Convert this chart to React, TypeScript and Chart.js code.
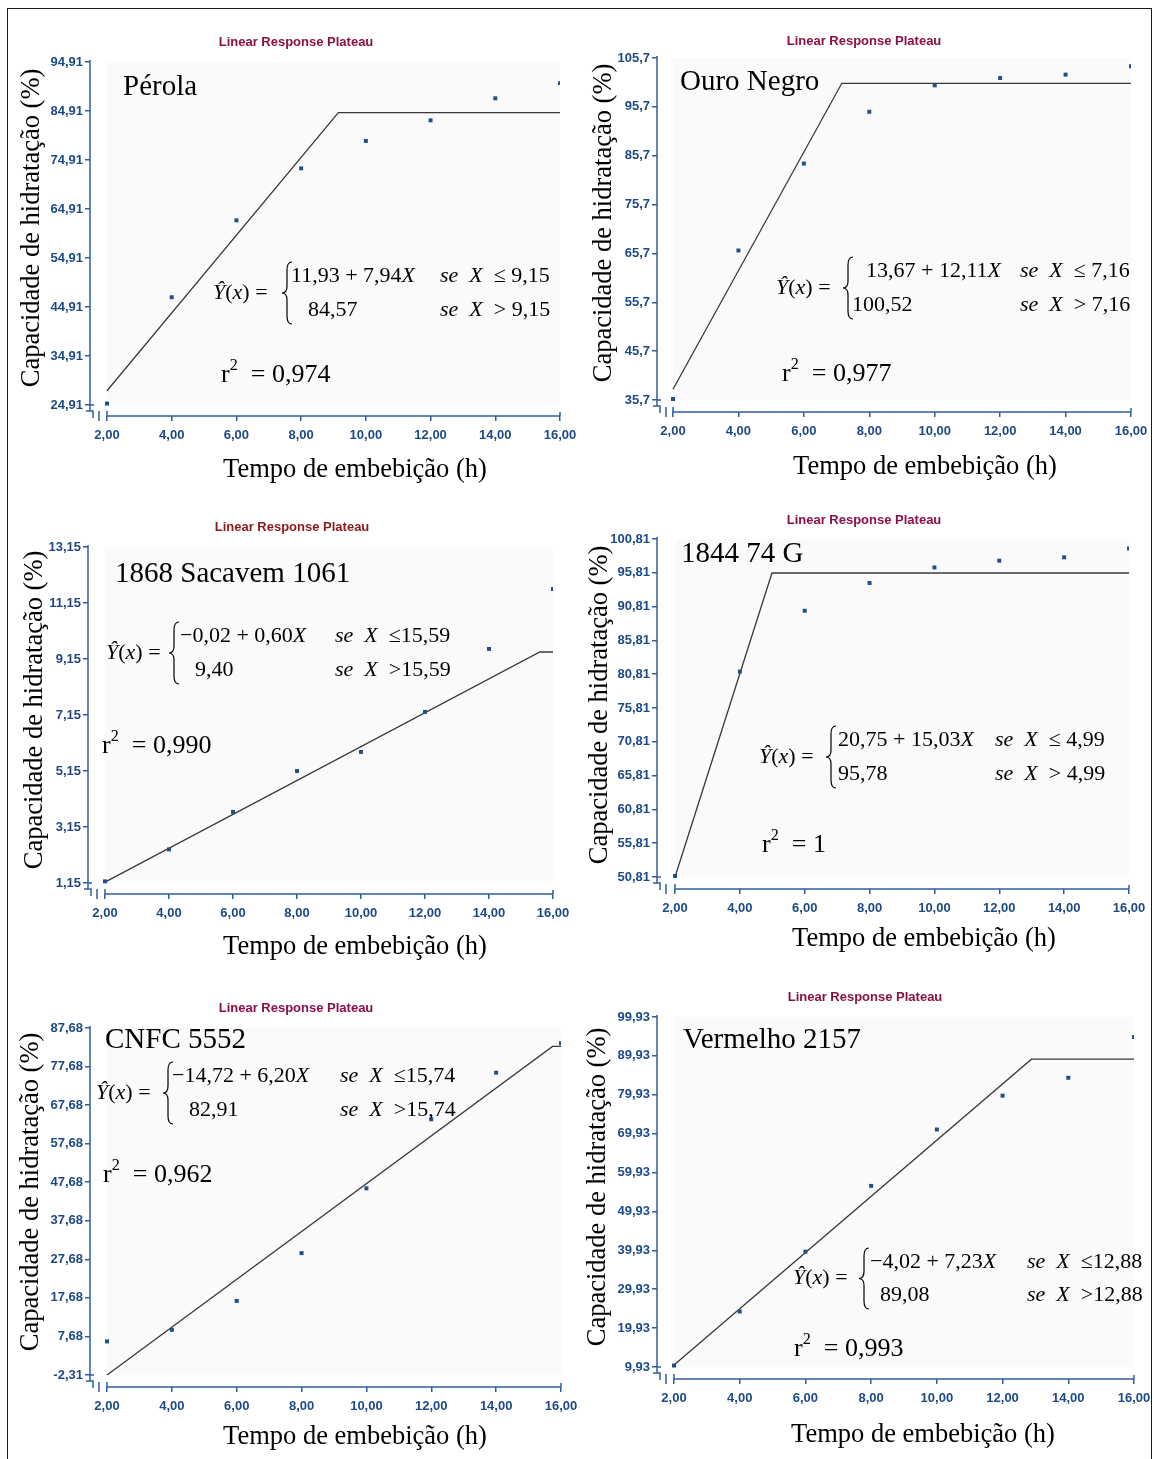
import React, { useEffect, useRef } from "react";
import { Chart, registerables } from "chart.js";

Chart.register(...registerables);

// ---------------- data ----------------
const timeH = [2, 4, 6, 8, 10, 12, 14, 16];
const xTickValues = [2, 4, 6, 8, 10, 12, 14, 16];

const perolaObs = [25.2, 46.9, 62.6, 73.2, 78.8, 83.0, 87.5, 90.6];
const perolaFitX = [2, 9.15, 16];
const perolaFitY = [27.81, 84.57, 84.57];
const perolaYTicks = [24.91, 34.91, 44.91, 54.91, 64.91, 74.91, 84.91, 94.91];

const ouroObs = [35.9, 66.3, 84.1, 94.7, 100.1, 101.6, 102.3, 104.0];
const ouroFitX = [2, 7.16, 16];
const ouroFitY = [37.89, 100.52, 100.52];
const ouroYTicks = [35.7, 45.7, 55.7, 65.7, 75.7, 85.7, 95.7, 105.7];

const sacavemObs = [1.21, 2.35, 3.69, 5.15, 5.83, 7.26, 9.51, 11.65];
const sacavemFitX = [2, 15.59, 16];
const sacavemFitY = [1.18, 9.4, 9.4];
const sacavemYTicks = [1.15, 3.15, 5.15, 7.15, 9.15, 11.15, 13.15];

const g74Obs = [50.96, 81.2, 90.2, 94.3, 96.6, 97.6, 98.1, 99.4];
const g74FitX = [2, 4.99, 16];
const g74FitY = [50.81, 95.78, 95.78];
const g74YTicks = [50.81, 55.81, 60.81, 65.81, 70.81, 75.81, 80.81, 85.81, 90.81, 95.81, 100.81];

const cnfcObs = [6.4, 9.4, 16.9, 29.3, 46.1, 64.0, 76.1, 83.7];
const cnfcFitX = [2, 15.74, 16];
const cnfcFitY = [-2.32, 82.91, 82.91];
const cnfcYTicks = [-2.31, 7.68, 17.68, 27.68, 37.68, 47.68, 57.68, 67.68, 77.68, 87.68];

const vermObs = [10.3, 24.2, 39.6, 56.5, 71.0, 79.7, 84.3, 94.8];
const vermFitX = [2, 12.88, 16];
const vermFitY = [10.44, 89.08, 89.08];
const vermYTicks = [9.93, 19.93, 29.93, 39.93, 49.93, 59.93, 69.93, 79.93, 89.93, 99.93];

const chartTitle = "Linear Response Plateau";
const yAxisTitle = "Capacidade de hidratação (%)";
const xAxisTitle = "Tempo de embebição (h)";

// ---------------- styles ----------------
const AXIS = "#2f5f9e";
const TICKTXT = "#1d4a86";
const POINT = "#1f4e8c";
const LINE = "#3a3a3a";
const SERIF = '"Liberation Serif", "Times New Roman", serif';
const NARROW = '"Liberation Sans Narrow", "Arial Narrow", "Liberation Sans", Arial, sans-serif';

const panels = [
  {
    key: "p1", name: "Pérola", obs: perolaObs, fitX: perolaFitX, fitY: perolaFitY, yTicks: perolaYTicks, yDec: 2,
    expr: "11,93 + 7,94", plateau: "84,57", le: "≤ 9,15", gt: "> 9,15", r2: "0,974", titleColor: "#8b1046",
    geo: { cx: 9, cy: 9, w: 590, h: 478, x0: 90, x2: 107, x16: 560, yTop: 62, yMin: 405, axisY: 416 },
    txt: { title: [296, 42], yT: [32, 228], xT: [355, 470], name: [123, 87], lhs: [213, 293], brace: 287,
      row1: 276, row2: 310, e1: 291, e2: 308, cond: 440, r2: [221, 375] },
  },
  {
    key: "p2", name: "Ouro Negro", obs: ouroObs, fitX: ouroFitX, fitY: ouroFitY, yTicks: ouroYTicks, yDec: 1,
    expr: "13,67 + 12,11", plateau: "100,52", le: "≤ 7,16", gt: "> 7,16", r2: "0,977", titleColor: "#8b1046",
    geo: { cx: 577, cy: 9, w: 610, h: 478, x0: 657, x2: 673, x16: 1131, yTop: 58, yMin: 400, axisY: 412 },
    txt: { title: [864, 41], yT: [604, 223], xT: [925, 467], name: [680, 82], lhs: [776, 288], brace: 848,
      row1: 271, row2: 305, e1: 866, e2: 852, cond: 1020, r2: [782, 374] },
  },
  {
    key: "p3", name: "1868 Sacavem 1061", obs: sacavemObs, fitX: sacavemFitX, fitY: sacavemFitY, yTicks: sacavemYTicks, yDec: 2,
    expr: "−0,02 + 0,60", plateau: "9,40", le: "≤15,59", gt: ">15,59", r2: "0,990", titleColor: "#8b1a1a",
    geo: { cx: 9, cy: 487, w: 590, h: 488, x0: 88, x2: 105, x16: 553, yTop: 547, yMin: 883, axisY: 894 },
    txt: { title: [292, 527], yT: [35, 710], xT: [355, 947], name: [115, 574], lhs: [106, 653], brace: 174,
      row1: 636, row2: 670, e1: 180, e2: 195, cond: 335, r2: [102, 746] },
  },
  {
    key: "p4", name: "1844 74 G", obs: g74Obs, fitX: g74FitX, fitY: g74FitY, yTicks: g74YTicks, yDec: 2,
    expr: "20,75 + 15,03", plateau: "95,78", le: "≤ 4,99", gt: "> 4,99", r2: "1", titleColor: "#8b1046",
    geo: { cx: 577, cy: 487, w: 610, h: 488, x0: 657, x2: 675, x16: 1129, yTop: 539, yMin: 877, axisY: 889 },
    txt: { title: [864, 520], yT: [600, 705], xT: [924, 939], name: [681, 554], lhs: [759, 757], brace: 831,
      row1: 740, row2: 774, e1: 838, e2: 838, cond: 995, r2: [762, 845] },
  },
  {
    key: "p5", name: "CNFC 5552", obs: cnfcObs, fitX: cnfcFitX, fitY: cnfcFitY, yTicks: cnfcYTicks, yDec: 2,
    expr: "−14,72 + 6,20", plateau: "82,91", le: "≤15,74", gt: ">15,74", r2: "0,962", titleColor: "#8b1046",
    geo: { cx: 9, cy: 975, w: 590, h: 484, x0: 90, x2: 107, x16: 561, yTop: 1028, yMin: 1375, axisY: 1387 },
    txt: { title: [296, 1008], yT: [31, 1192], xT: [355, 1437], name: [105, 1040], lhs: [96, 1093], brace: 168,
      row1: 1076, row2: 1110, e1: 172, e2: 189, cond: 340, r2: [103, 1175] },
  },
  {
    key: "p6", name: "Vermelho 2157", obs: vermObs, fitX: vermFitX, fitY: vermFitY, yTicks: vermYTicks, yDec: 2,
    expr: "−4,02 + 7,23", plateau: "89,08", le: "≤12,88", gt: ">12,88", r2: "0,993", titleColor: "#8b1046",
    geo: { cx: 577, cy: 975, w: 610, h: 484, x0: 657, x2: 674, x16: 1134, yTop: 1017, yMin: 1367, axisY: 1379 },
    txt: { title: [865, 997], yT: [598, 1187], xT: [923, 1435], name: [683, 1040], lhs: [793, 1278], brace: 864,
      row1: 1262, row2: 1295, e1: 870, e2: 880, cond: 1027, r2: [794, 1349] },
  },
];

const fmt = (v: number, d: number) => v.toFixed(d).replace(".", ",");

function drawRich(ctx: CanvasRenderingContext2D, x: number, y: number, segs: [string, string][], size: number) {
  let cx = x;
  for (const [t, st] of segs) {
    const italic = st.includes("i");
    const sup = st.includes("s");
    const fs = sup ? size * 0.62 : size;
    ctx.font = `${italic ? "italic " : ""}${fs}px ${SERIF}`;
    ctx.fillText(t, cx, sup ? y - size * 0.36 : y);
    cx += ctx.measureText(t).width;
  }
}

function drawBrace(ctx: CanvasRenderingContext2D, x: number, y1: number, y2: number) {
  const m = (y1 + y2) / 2;
  const w = 5;
  ctx.beginPath();
  ctx.moveTo(x + w, y1);
  ctx.quadraticCurveTo(x, y1, x, y1 + w * 1.6);
  ctx.lineTo(x, m - w * 1.4);
  ctx.quadraticCurveTo(x, m, x - w, m);
  ctx.quadraticCurveTo(x, m, x, m + w * 1.4);
  ctx.lineTo(x, y2 - w * 1.6);
  ctx.quadraticCurveTo(x, y2, x + w, y2);
  ctx.stroke();
}

function Panel({ p }: { p: any }) {
  const ref = useRef<HTMLCanvasElement>(null);
  const g = p.geo;
  useEffect(() => {
    if (!ref.current) return;
    const yTicks: number[] = p.yTicks;
    const yMinV = yTicks[0];
    const yMaxV = yTicks[yTicks.length - 1];
    const xFirst = xTickValues[0];
    const xLast = xTickValues[xTickValues.length - 1];
    const r = (g.x2 - g.x0) / (g.x16 - g.x0);
    const xLow = (xFirst - xLast * r) / (1 - r);
    const s = (g.axisY - g.yMin) / (g.axisY - g.yTop);
    const yLow = (yMinV - s * yMaxV) / (1 - s);
    const L = (v: number) => v - g.cx;
    const T = (v: number) => v - g.cy;
    const t = p.txt;

    const deco = {
      id: "deco" + p.key,
      beforeDraw(chart: any) {
        const { ctx, scales } = chart;
        const x = scales.x, y = scales.y;
        ctx.save();
        ctx.fillStyle = "#fafafa";
        const px1 = x.getPixelForValue(xFirst), px2 = x.getPixelForValue(xLast);
        const py1 = y.getPixelForValue(yMaxV), py2 = y.getPixelForValue(yMinV);
        ctx.fillRect(px1, py1, px2 - px1, py2 - py1);
        ctx.restore();
      },
      beforeDatasetsDraw(chart: any) {
        const { ctx, scales, chartArea } = chart;
        const x = scales.x, y = scales.y;
        const ax = chartArea.left;
        const by = chartArea.bottom;
        const yTopPx = y.getPixelForValue(yMaxV);
        const yMinPx = y.getPixelForValue(yMinV);
        const x2px = x.getPixelForValue(xFirst);
        const x16px = x.getPixelForValue(xLast);
        ctx.save();
        ctx.strokeStyle = AXIS;
        ctx.lineWidth = 1.5;
        ctx.beginPath();
        // y axis
        ctx.moveTo(ax, yTopPx - 2);
        ctx.lineTo(ax, yMinPx + 6);
        // break mark
        ctx.moveTo(ax - 4, yMinPx + 6);
        ctx.lineTo(ax + 3, yMinPx + 6);
        ctx.lineTo(ax + 3, yMinPx + 13);
        ctx.moveTo(ax + 9, by - 5);
        ctx.lineTo(ax + 9, by + 5);
        // x axis
        ctx.moveTo(x2px, by - 5);
        ctx.lineTo(x2px, by);
        ctx.moveTo(x2px, by);
        ctx.lineTo(x16px, by);
        ctx.moveTo(x16px, by - 4);
        ctx.lineTo(x16px, by);
        ctx.moveTo(ax, yMinPx);
        ctx.lineTo(ax + 4, yMinPx);
        ctx.stroke();
        ctx.restore();
      },
      afterDatasetsDraw(chart: any) {
        const { ctx } = chart;
        ctx.save();
        ctx.textBaseline = "middle";
        // panel title
        ctx.fillStyle = p.titleColor;
        ctx.textAlign = "center";
        ctx.font = `bold 13px ${NARROW}`;
        ctx.fillText(chartTitle, L(t.title[0]), T(t.title[1]));
        // axis titles
        ctx.fillStyle = "#000";
        ctx.font = `26.5px ${SERIF}`;
        ctx.fillText(xAxisTitle, L(t.xT[0]), T(t.xT[1]));
        ctx.save();
        ctx.translate(L(t.yT[0]), T(t.yT[1]));
        ctx.rotate(-Math.PI / 2);
        ctx.fillText(yAxisTitle, 0, 0);
        ctx.restore();
        // name
        ctx.textAlign = "left";
        ctx.font = `29px ${SERIF}`;
        ctx.fillText(p.name, L(t.name[0]), T(t.name[1]));
        // equation
        const es = 22;
        drawRich(ctx, L(t.lhs[0]), T(t.lhs[1]), [["Ŷ", "i"], ["(", "n"], ["x", "i"], [")", "n"], [" = ", "n"]], es);
        ctx.strokeStyle = "#000";
        ctx.lineWidth = 1.2;
        drawBrace(ctx, L(t.brace), T(t.row1 - 14), T(t.row2 + 14));
        drawRich(ctx, L(t.e1), T(t.row1), [[p.expr, "n"], ["X", "i"]], es);
        drawRich(ctx, L(t.e2), T(t.row2), [[p.plateau, "n"]], es);
        drawRich(ctx, L(t.cond), T(t.row1), [["se", "i"], ["\u2002", "n"], ["X", "i"], ["\u2002" + p.le, "n"]], es);
        drawRich(ctx, L(t.cond), T(t.row2), [["se", "i"], ["\u2002", "n"], ["X", "i"], ["\u2002" + p.gt, "n"]], es);
        // r2
        drawRich(ctx, L(t.r2[0]), T(t.r2[1]), [["r", "n"], ["2", "s"], ["  = " + p.r2, "n"]], 26);
        ctx.restore();
      },
    };

    const tickFont = { family: NARROW, size: 13, weight: "bold" as const };

    const chart = new Chart(ref.current, {
      type: "scatter",
      data: {
        datasets: [
          {
            label: "Modelo",
            data: p.fitX.map((xv: number, i: number) => ({ x: xv, y: p.fitY[i] })),
            showLine: true,
            borderColor: LINE,
            borderWidth: 1.3,
            pointRadius: 0,
            fill: false,
            tension: 0,
            order: 2,
          },
          {
            label: "Observado",
            data: timeH.map((xv, i) => ({ x: xv, y: p.obs[i] })),
            pointStyle: "rect",
            pointRadius: 2.8,
            backgroundColor: POINT,
            borderColor: POINT,
            borderWidth: 0,
            showLine: false,
            order: 1,
          },
        ],
      } as any,
      options: {
        responsive: false,
        maintainAspectRatio: false,
        animation: false,
        events: [],
        layout: {
          padding: { left: 0, top: g.yTop - g.cy, right: g.cx + g.w - g.x16, bottom: 0 },
        },
        plugins: {
          legend: { display: false },
          tooltip: { enabled: false },
          title: { display: false },
        },
        scales: {
          x: {
            type: "linear",
            position: "bottom",
            min: xLow,
            max: xLast,
            bounds: "data",
            afterBuildTicks: (sc: any) => {
              sc.ticks = xTickValues.map((v) => ({ value: v }));
            },
            afterFit: (sc: any) => {
              sc.height = g.cy + g.h - g.axisY;
            },
            ticks: {
              autoSkip: false,
              maxRotation: 0,
              padding: 7,
              color: TICKTXT,
              font: tickFont,
              callback: (v: any) => fmt(Number(v), 2),
            },
            grid: { display: true, drawOnChartArea: false, drawTicks: true, tickLength: 5, color: AXIS, lineWidth: 1.5 },
            border: { display: false },
          },
          y: {
            type: "linear",
            position: "left",
            min: yLow,
            max: yMaxV,
            bounds: "data",
            afterBuildTicks: (sc: any) => {
              sc.ticks = yTicks.map((v) => ({ value: v }));
            },
            afterFit: (sc: any) => {
              sc.width = g.x0 - g.cx;
            },
            ticks: {
              autoSkip: false,
              padding: 2,
              color: TICKTXT,
              font: tickFont,
              callback: (v: any) => fmt(Number(v), p.yDec),
            },
            grid: { display: true, drawOnChartArea: false, drawTicks: true, tickLength: 5, color: AXIS, lineWidth: 1.5 },
            border: { display: false },
          },
        },
      } as any,
      plugins: [deco],
    });
    return () => chart.destroy();
  }, [p]);

  return (
    <canvas
      ref={ref}
      width={g.w}
      height={g.h}
      style={{ position: "absolute", left: g.cx, top: g.cy, width: g.w, height: g.h }}
    />
  );
}

export default function App() {
  return (
    <div
      style={{
        position: "absolute",
        left: 0,
        top: 0,
        width: 1154,
        height: 1459,
        overflow: "hidden",
        background: "#fff",
      }}
    >
      {panels.map((p) => (
        <Panel key={p.key} p={p} />
      ))}
      <div
        style={{
          position: "absolute",
          left: 7,
          top: 8,
          width: 1145,
          height: 1500,
          border: "1.5px solid #1a1a1a",
          boxSizing: "border-box",
          pointerEvents: "none",
        }}
      />
    </div>
  );
}
